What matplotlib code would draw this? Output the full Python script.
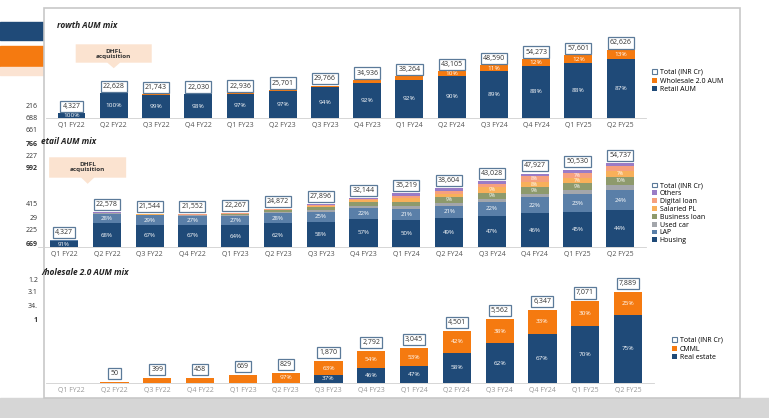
import matplotlib
matplotlib.use("Agg")
import matplotlib.pyplot as plt
from matplotlib.patches import Rectangle, Polygon
import numpy as np

plt.rcParams['font.family'] = ['Open Sans', 'DejaVu Sans']

quarters = ["Q1 FY22", "Q2 FY22", "Q3 FY22", "Q4 FY22", "Q1 FY23", "Q2 FY23", "Q3 FY23",
            "Q4 FY23", "Q1 FY24", "Q2 FY24", "Q3 FY24", "Q4 FY24", "Q1 FY25", "Q2 FY25"]

# Growth AUM mix
growth_total = [4327, 22628, 21743, 22030, 22936, 25701, 29766, 34936, 38264, 43105, 48590, 54273, 57601, 62626]
growth_retail_pct = [100, 100, 99, 98, 97, 97, 94, 92, 92, 90, 89, 88, 88, 87]
growth_wholesale_pct = [0, 0, 1, 2, 3, 3, 6, 8, 8, 10, 11, 12, 12, 13]

# Retail AUM mix
retail_total = [4327, 22578, 21544, 21552, 22267, 24872, 27896, 32144, 35219, 38604, 43028, 47927, 50530, 54737]
housing = [91, 68, 67, 67, 64, 62, 58, 57, 50, 49, 47, 46, 45, 44]
lap = [9, 28, 29, 27, 27, 28, 25, 22, 21, 21, 22, 22, 23, 24]
used_car = [0, 1, 1, 2, 3, 3, 4, 4, 5, 5, 4, 4, 5, 6]
business_loan = [0, 1, 1, 1, 2, 3, 6, 8, 8, 9, 9, 9, 9, 10]
salaried_pl = [0, 1, 1, 1, 2, 2, 4, 4, 6, 6, 9, 8, 7, 7]
digital_loan = [0, 0, 0, 1, 1, 1, 2, 3, 5, 5, 5, 8, 7, 6]
others = [0, 1, 1, 1, 1, 1, 1, 2, 5, 5, 4, 3, 4, 3]

# Wholesale 2.0 AUM mix
wholesale_total = [0, 50, 399, 458, 669, 829, 1870, 2792, 3045, 4501, 5562, 6347, 7071, 7889]
real_estate_pct = [0, 0, 0, 0, 0, 3, 37, 46, 47, 58, 62, 67, 70, 75]
cmml_pct = [0, 100, 100, 100, 100, 97, 63, 54, 53, 42, 38, 33, 30, 25]

# left table fragment (partially visible behind the slide)
table_vals = ["216", "688", "661", "766", "227", "992", "415", "29", "225", "669", "1.2", "3.1", "34.", "1"]
table_bold = ["766", "992", "669", "1"]

NAVY = "#1f4a78"
ORANGE = "#f57a10"
LAP_C = "#5a7fa8"
USED_C = "#a3a6ab"
BIZ_C = "#8e9a6c"
SAL_C = "#f8b05a"
DIG_C = "#f6a07e"
OTH_C = "#9a7cc6"
BOX_EDGE = "#5b7a99"
TICK_C = "#555555"

fig = plt.figure(figsize=(7.69, 4.18), dpi=100)
fig.patch.set_facecolor("white")

# background axes for page decorations
bg = fig.add_axes([0, 0, 1, 1], zorder=-10)
bg.set_xlim(0, 769)
bg.set_ylim(418, 0)
bg.axis("off")
bg.add_patch(Rectangle((0, 398), 769, 20, color="#d6d6d6"))
bg.add_patch(Rectangle((0, 22), 45, 18, color=NAVY))
bg.add_patch(Rectangle((0, 46), 45, 20, color=ORANGE))
bg.add_patch(Rectangle((0, 67), 45, 8, color="#fbe3d2"))
ys = [106, 118, 131, 144, 156, 169, 205, 218, 231, 245, 280, 293, 307, 320]
for y, t in zip(ys, table_vals):
    bg.text(38, y, t, fontsize=5, ha="right", va="center", color="#333333",
            fontweight="bold" if t in table_bold else "normal")
bg.add_patch(Rectangle((44, 8), 696, 390, facecolor="white", edgecolor="#c8c8c8", lw=1.2))

x = np.arange(len(quarters))
W = 0.66


def style_ax(ax, ymax):
    ax.set_xlim(-0.6, len(quarters) - 0.4)
    ax.set_ylim(0, ymax)
    ax.set_xticks(x)
    ax.set_xticklabels(quarters, fontsize=5, color=TICK_C)
    ax.tick_params(axis="x", length=0, pad=3)
    ax.set_yticks([])
    for s in ["top", "right", "left"]:
        ax.spines[s].set_visible(False)
    ax.spines["bottom"].set_color("#d0d0d0")
    ax.spines["bottom"].set_linewidth(0.6)
    ax.set_facecolor("none")


def total_labels(ax, totals, ymax):
    for xi, t in zip(x, totals):
        if t <= 0:
            continue
        ax.text(xi, t + ymax * 0.075, f"{t:,}", ha="center", va="center", fontsize=5, color="#333333",
                bbox=dict(boxstyle="square,pad=0.3", fc="white", ec=BOX_EDGE, lw=0.9), zorder=3)


def pct_labels(ax, bottoms, heights, pcts, minval, fs=4.6):
    for xi, b, h, p in zip(x, bottoms, heights, pcts):
        if h >= minval and p > 0:
            ax.text(xi, b + h / 2, f"{p}%", ha="center", va="center", fontsize=fs, color="white", zorder=3)


def dhfl(ax, xc, ytop, ymax):
    hb = ymax * 0.2
    w = 0.9
    y0 = ytop - hb
    poly = Polygon([[xc - w, ytop], [xc + w, ytop], [xc + w, y0], [xc + 0.15, y0],
                    [xc, y0 - ymax * 0.06], [xc - 0.15, y0], [xc - w, y0]],
                   closed=True, facecolor="#fbe3d0", edgecolor="none", zorder=1)
    ax.add_patch(poly)
    ax.text(xc, y0 + hb / 2, "DHFL\nacquisition", ha="center", va="center", fontsize=4.6,
            fontweight="bold", color="#333333", linespacing=1.0, zorder=2)


h_tot = Rectangle((0, 0), 1, 1, facecolor="white", edgecolor=BOX_EDGE, lw=0.8)

# ---------- Growth AUM mix ----------
ax1 = fig.add_axes([0.06, 0.718, 0.78, 0.22])
Y1 = 84700
px1 = Y1 / 92.0
retail_val = [t * p / 100 for t, p in zip(growth_total, growth_retail_pct)]
whole_val = [t * p / 100 for t, p in zip(growth_total, growth_wholesale_pct)]
ax1.bar(x, retail_val, W, color=NAVY, label="Retail AUM", zorder=2)
ax1.bar(x, whole_val, W, bottom=retail_val, color=ORANGE, label="Wholesale 2.0 AUM", zorder=2)
pct_labels(ax1, [0] * 14, retail_val, growth_retail_pct, 3 * px1)
pct_labels(ax1, retail_val, whole_val, growth_wholesale_pct, 4.5 * px1)
total_labels(ax1, growth_total, Y1)
style_ax(ax1, Y1)
dhfl(ax1, 1.0, Y1 * 0.80, Y1)
ax1.text(-0.35, Y1 * 1.05, "rowth AUM mix", fontsize=6, fontweight="bold", fontstyle="italic",
         color="#222222", va="top")
hs, ls = ax1.get_legend_handles_labels()
ax1.legend([h_tot] + hs[::-1], ["Total (INR Cr)"] + ls[::-1], loc="center left",
           bbox_to_anchor=(1.0, 0.4), frameon=False, fontsize=5, handlelength=0.7,
           handleheight=0.7, labelspacing=0.25, handletextpad=0.4)

# ---------- Retail AUM mix ----------
ax2 = fig.add_axes([0.05, 0.409, 0.79, 0.244])
Y2 = 66500
px2 = Y2 / 102.0
series = [("Housing", housing, NAVY), ("LAP", lap, LAP_C), ("Used car", used_car, USED_C),
          ("Business loan", business_loan, BIZ_C), ("Salaried PL", salaried_pl, SAL_C),
          ("Digital loan", digital_loan, DIG_C), ("Others", others, OTH_C)]
bottom = np.zeros(14)
for i, (name, pcts, col) in enumerate(series):
    vals = np.array([t * p / 100 for t, p in zip(retail_total, pcts)])
    ax2.bar(x, vals, W, bottom=bottom, color=col, label=name, zorder=2)
    pct_labels(ax2, bottom, vals, pcts, 2.5 * px2 if i < 2 else 5.2 * px2, fs=4.4 if i < 2 else 3.6)
    bottom = bottom + vals
total_labels(ax2, retail_total, Y2)
style_ax(ax2, Y2)
dhfl(ax2, 0.55, Y2 * 0.88, Y2)
ax2.text(-0.55, Y2 * 1.08, "etail AUM mix", fontsize=6, fontweight="bold", fontstyle="italic",
         color="#222222", va="top")
hs, ls = ax2.get_legend_handles_labels()
ax2.legend([h_tot] + hs[::-1], ["Total (INR Cr)"] + ls[::-1], loc="center left",
           bbox_to_anchor=(1.0, 0.33), frameon=False, fontsize=5, handlelength=0.7,
           handleheight=0.7, labelspacing=0.12, handletextpad=0.4)

# ---------- Wholesale 2.0 AUM mix ----------
ax3 = fig.add_axes([0.06, 0.084, 0.79, 0.27])
Y3 = 9800
px3 = Y3 / 113.0
re_val = [t * p / 100 for t, p in zip(wholesale_total, real_estate_pct)]
cm_val = [t * p / 100 for t, p in zip(wholesale_total, cmml_pct)]
ax3.bar(x, re_val, W, color=NAVY, label="Real estate", zorder=2)
ax3.bar(x, cm_val, W, bottom=re_val, color=ORANGE, label="CMML", zorder=2)
pct_labels(ax3, [0] * 14, re_val, real_estate_pct, 6 * px3)
pct_labels(ax3, re_val, cm_val, cmml_pct, 8.5 * px3)
total_labels(ax3, wholesale_total, Y3)
style_ax(ax3, Y3)
ax3.tick_params(axis="x", labelcolor="#9a9a9a")
ax3.text(-0.7, Y3 * 1.02, "/holesale 2.0 AUM mix", fontsize=6, fontweight="bold", fontstyle="italic",
         color="#222222", va="top")
hs, ls = ax3.get_legend_handles_labels()
ax3.legend([h_tot] + hs[::-1], ["Total (INR Cr)"] + ls[::-1], loc="center left",
           bbox_to_anchor=(1.02, 0.3), frameon=False, fontsize=5, handlelength=0.7,
           handleheight=0.7, labelspacing=0.25, handletextpad=0.4)

fig.savefig("out.png", dpi=100)
